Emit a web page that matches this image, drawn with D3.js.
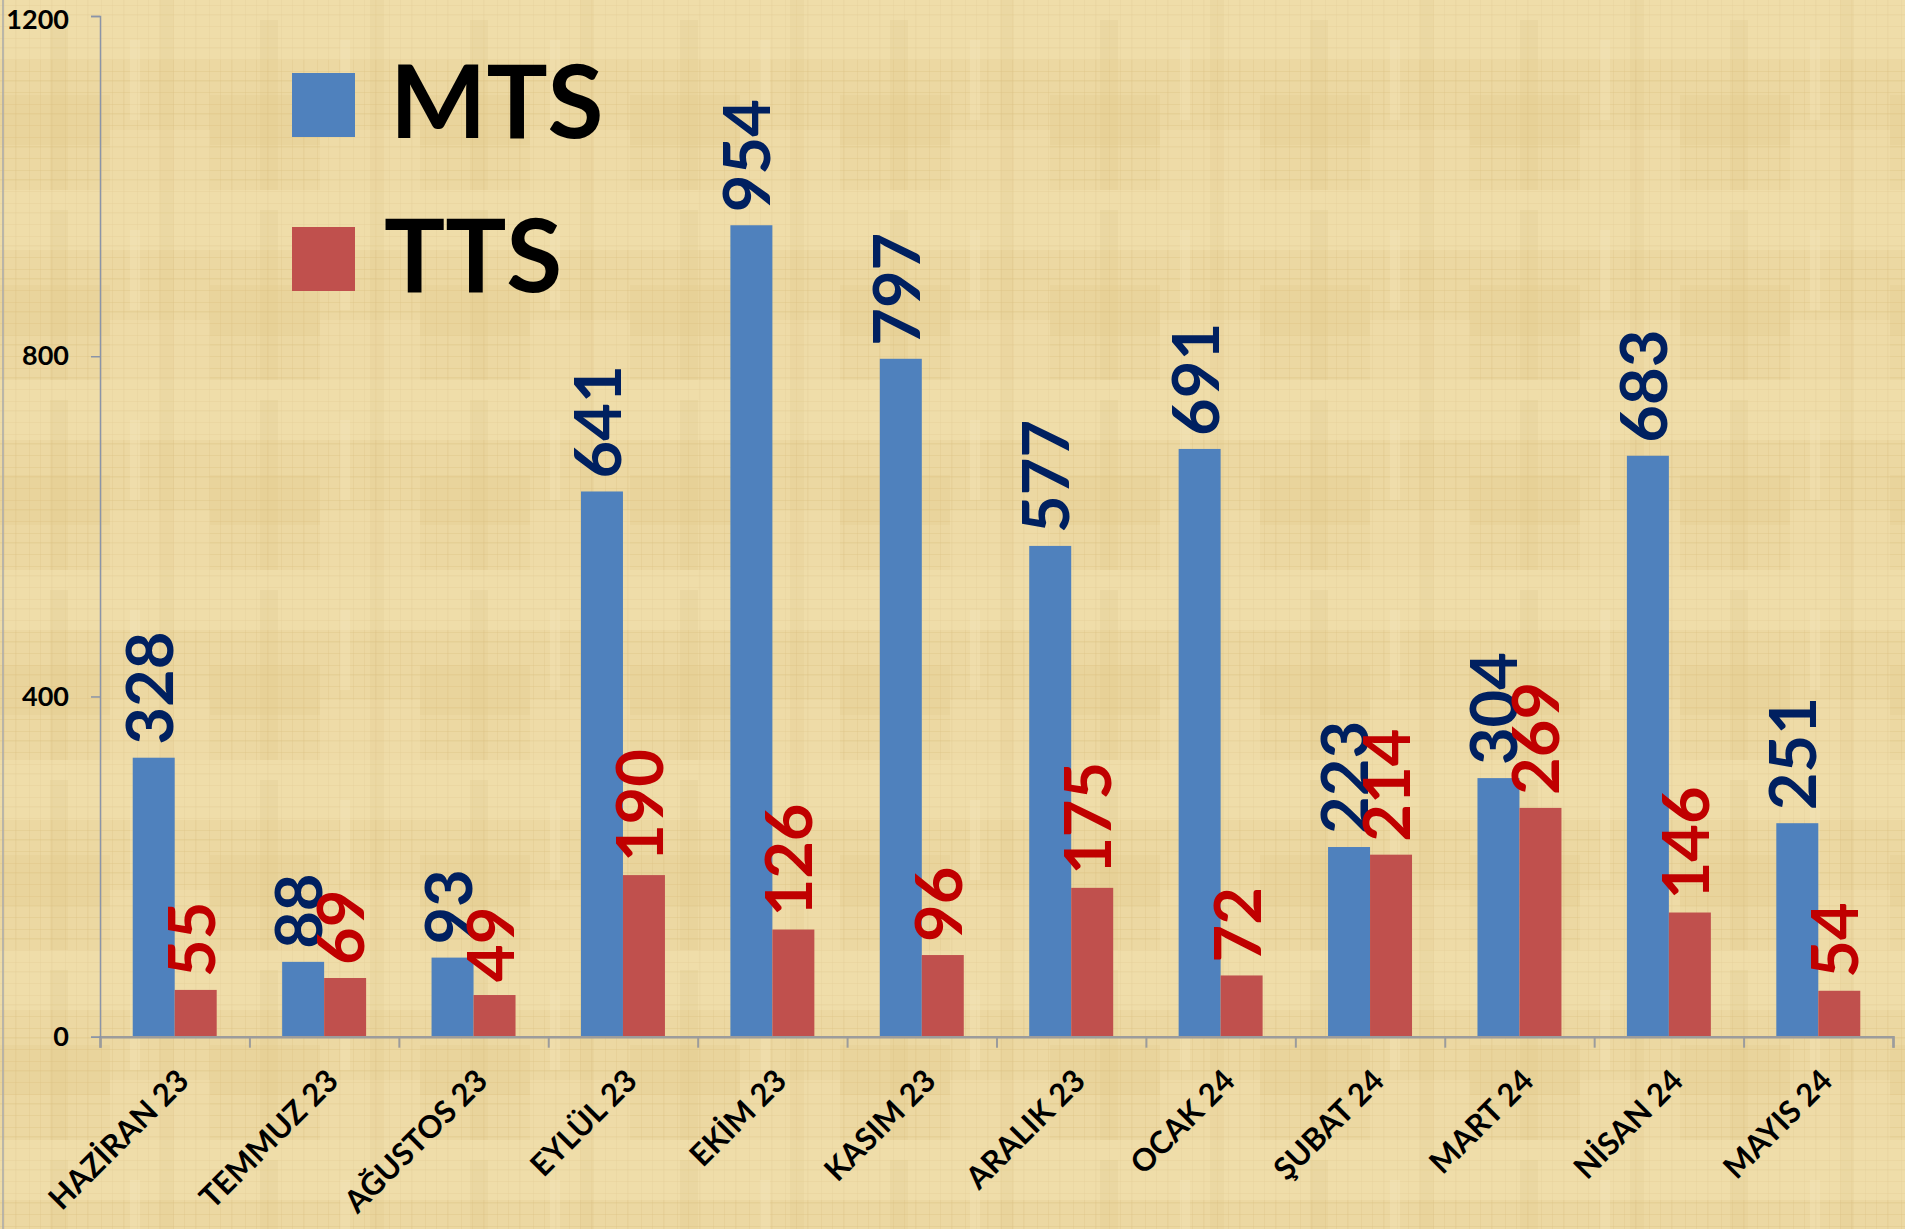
<!DOCTYPE html>
<html>
<head>
<meta charset="utf-8">
<script src="https://cdn.jsdelivr.net/npm/d3@7"></script>
<style>
  body { margin: 0; background: #ecd8a2; }
  svg { display: block; }
</style>
</head>
<body>
<div id="chart"></div>
<script>
// chart data
const months = ["HAZİRAN 23", "TEMMUZ 23", "AĞUSTOS 23", "EYLÜL 23", "EKİM 23", "KASIM 23",
  "ARALIK 23", "OCAK 24", "ŞUBAT 24", "MART 24", "NİSAN 24", "MAYIS 24"];
const mts = [328, 88, 93, 641, 954, 797, 577, 691, 223, 304, 683, 251];
const tts = [55, 69, 49, 190, 126, 96, 175, 72, 214, 269, 146, 54];
const yTicks = [0, 400, 800, 1200];
const seriesNames = ["MTS", "TTS"];

const width = 1905, height = 1229;
const margins = {top: 16, right: 12, bottom: 192.3, left: 100};

const barColor = {MTS: "#4f81bd", TTS: "#c0504d"};
const labelColor = {MTS: "#002060", TTS: "#c00000"};
const font = "Lato, 'Open Sans', sans-serif";

const data = months.map((m, i) => ({month: m, MTS: mts[i], TTS: tts[i]}));

const svg = d3.select("#chart")
  .append("svg")
  .attr("width", width)
  .attr("height", height);

// papyrus-like background: fine fibres over a warm base
const defs = svg.append("defs");
const fine = defs.append("pattern")
  .attr("id", "fibres")
  .attr("patternUnits", "userSpaceOnUse")
  .attr("width", 36)
  .attr("height", 33);
fine.append("rect").attr("width", 36).attr("height", 33).attr("fill", "#ecd8a2");
[[0, 5, 36, 1], [0, 14, 36, 1.5], [0, 26, 36, 1]].forEach(([x, y, w, h]) =>
  fine.append("rect").attr("x", x).attr("y", y).attr("width", w).attr("height", h)
    .attr("fill", "#d9bf80").attr("opacity", 0.35));
[[4, 0, 1, 33], [15, 0, 1.5, 33], [29, 0, 1, 33]].forEach(([x, y, w, h]) =>
  fine.append("rect").attr("x", x).attr("y", y).attr("width", w).attr("height", h)
    .attr("fill", "#dcc286").attr("opacity", 0.3));
svg.append("rect")
  .attr("width", width).attr("height", height)
  .attr("fill", "url(#fibres)");

const coarse = defs.append("pattern")
  .attr("id", "blotches")
  .attr("patternUnits", "userSpaceOnUse")
  .attr("width", 210)
  .attr("height", 190);
[[0, 0, 210, 60, "#f4e4b8", 0.35], [0, 95, 110, 50, "#dcc07e", 0.18], [110, 130, 100, 60, "#f3e2b4", 0.3],
 [50, 20, 18, 170, "#d8bb78", 0.15], [160, 0, 14, 190, "#d8bb78", 0.14], [130, 40, 10, 80, "#f6e8c0", 0.3]]
  .forEach(([x, y, w, h, c, o]) => coarse.append("rect")
    .attr("x", x).attr("y", y).attr("width", w).attr("height", h)
    .attr("fill", c).attr("opacity", o));
svg.append("rect")
  .attr("width", width).attr("height", height)
  .attr("fill", "url(#blotches)");

// left border of the chart area
svg.append("line")
  .attr("x1", 3).attr("x2", 3).attr("y1", 0).attr("y2", height)
  .style("stroke", "#a8a8a8").style("stroke-width", 1.5);

// scales
const x0 = d3.scaleBand()
  .domain(months)
  .range([margins.left, width - margins.right]);

const bw = x0.bandwidth();
const x1 = d3.scaleBand()
  .domain(seriesNames)
  .range([bw * 0.219, bw * 0.781]);

const y = d3.scaleLinear()
  .domain([0, 1200])
  .range([height - margins.bottom, margins.top]);

// bars
const groups = svg.selectAll("g.month")
  .data(data)
  .join("g")
    .attr("class", "month")
    .attr("transform", d => `translate(${x0(d.month)},0)`);

groups.selectAll("rect")
  .data(d => seriesNames.map(s => ({key: s, value: d[s]})))
  .join("rect")
    .attr("x", d => x1(d.key))
    .attr("y", d => y(d.value))
    .attr("width", x1.bandwidth())
    .attr("height", d => y(0) - y(d.value))
    .style("fill", d => barColor[d.key]);

// value labels, rotated
groups.selectAll("text.value")
  .data(d => seriesNames.map(s => ({key: s, value: d[s]})))
  .join("text")
    .attr("class", "value")
    .attr("transform", d => `translate(${x1(d.key) + x1.bandwidth() / 2 + 19},${y(d.value) - 13}) rotate(-90)`)
    .style("font-family", font)
    .style("font-weight", "bold")
    .style("font-size", "65px")
    .style("fill", d => labelColor[d.key])
    .text(d => d.value);

// x axis: ticks at category boundaries
const xIdx = d3.scaleLinear()
  .domain([0, months.length])
  .range([margins.left, width - margins.right]);
const xAxis = svg.append("g")
  .attr("transform", `translate(0,${y(0)})`)
  .call(d3.axisBottom(xIdx).tickValues(d3.range(months.length + 1)).tickSize(11).tickFormat(""));
xAxis.select(".domain").style("stroke", "#9c9c9c").style("stroke-width", 2.5);
xAxis.selectAll(".tick line").style("stroke", "#9c9c9c").style("stroke-width", 2);

// x labels, rotated -45
svg.selectAll("text.month")
  .data(months)
  .join("text")
    .attr("class", "month")
    .attr("text-anchor", "end")
    .attr("transform", d => `translate(${x0(d) + bw / 2 + 16},${y(0) + 46}) rotate(-45)`)
    .style("font-family", font)
    .style("font-weight", "bold")
    .style("font-size", "31px")
    .style("fill", "#000")
    .text(d => d);

// y axis
const yAxis = svg.append("g")
  .attr("transform", `translate(${margins.left},0)`)
  .call(d3.axisLeft(y).tickValues(yTicks).tickSize(9).tickPadding(22).tickFormat(d3.format("d")));
yAxis.select(".domain").style("stroke", "#8a94a8").style("stroke-width", 1.5);
yAxis.selectAll(".tick line").style("stroke", "#8a94a8").style("stroke-width", 1.5);
yAxis.selectAll(".tick text")
  .attr("dy", d => d === 1200 ? "0.45em" : "0.32em")
  .style("font-family", font)
  .style("font-weight", "bold")
  .style("font-size", "27px")
  .style("fill", "#000");

// legend
const legend = svg.append("g");
seriesNames.forEach((s, i) => {
  const ly = 73 + i * 154;
  legend.append("rect")
    .attr("x", 292).attr("y", ly)
    .attr("width", 63).attr("height", 64)
    .style("fill", barColor[s]);
  legend.append("text")
    .attr("x", i === 0 ? 390 : 384)
    .attr("y", ly + 65)
    .style("font-family", font)
    .style("font-weight", "bold")
    .style("font-size", "102px")
    .style("fill", "#000")
    .text(s);
});
</script>
</body>
</html>
